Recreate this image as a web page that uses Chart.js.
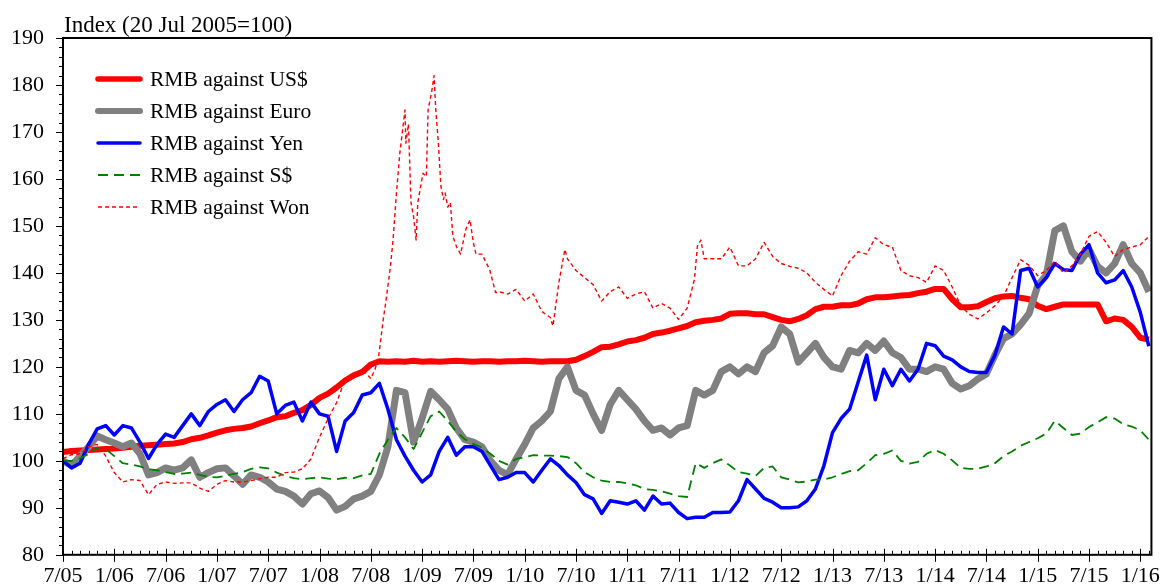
<!DOCTYPE html>
<html>
<head>
<meta charset="utf-8">
<script src="https://cdn.jsdelivr.net/npm/chart.js@4.4.1/dist/chart.umd.min.js"></script>
<style>
    html, body { margin: 0; padding: 0; background: #ffffff; }
    #wrap { width: 1168px; height: 587px; position: relative; }
</style>
</head>
<body>
<div id="wrap"><canvas id="rmbChart"></canvas></div>
<script>
// x values are months counted from July 2005 (0 = 7/05, 126 = 1/16)
const tickLabels = ['7/05', '1/06', '7/06', '1/07', '7/07', '1/08', '7/08', '1/09', '7/09', '1/10', '7/10',
    '1/11', '7/11', '1/12', '7/12', '1/13', '7/13', '1/14', '7/14', '1/15', '7/15', '1/16'];

const months = [
    0, 1, 2, 3, 4, 5, 6, 7, 8, 9, 10, 11, 12, 13, 14, 15, 16, 17, 18, 19,
    20, 21, 22, 23, 24, 25, 26, 27, 28, 29, 30, 31, 32, 33, 34, 35, 36, 37, 38, 39,
    40, 41, 42, 43, 44, 45, 46, 47, 48, 49, 50, 51, 52, 53, 54, 55, 56, 57, 58, 59,
    60, 61, 62, 63, 64, 65, 66, 67, 68, 69, 70, 71, 72, 73, 74, 75, 76, 77, 78, 79,
    80, 81, 82, 83, 84, 85, 86, 87, 88, 89, 90, 91, 92, 93, 94, 95, 96, 97, 98, 99,
    100, 101, 102, 103, 104, 105, 106, 107, 108, 109, 110, 111, 112, 113, 114, 115, 116, 117, 118, 119,
    120, 121, 122, 123, 124, 125, 126, 127
];

const usdIndex = [
    101.9,
    102.1, 102.2, 102.3, 102.4, 102.5, 102.6,
    102.8, 103.0, 103.2, 103.3, 103.4, 103.6,
    103.7, 104.0, 104.6, 104.9, 105.4, 106.0,
    106.5, 106.8, 107.0, 107.3, 108.0, 108.6,
    109.3, 109.5, 110.2, 110.8, 111.9, 113.4,
    114.3, 115.6, 117.1, 118.2, 118.9, 120.5,
    121.2, 121.1, 121.2, 121.1, 121.3, 121.1,
    121.2, 121.1, 121.2, 121.3, 121.2, 121.1,
    121.2, 121.2, 121.1, 121.2, 121.2, 121.3,
    121.2, 121.1, 121.2, 121.2, 121.2, 121.5,
    122.3, 123.2, 124.2, 124.3, 124.8, 125.4,
    125.7, 126.2, 127.0, 127.3, 127.7, 128.2,
    128.7, 129.5, 129.8, 130.0, 130.3, 131.3,
    131.4, 131.4, 131.2, 131.2, 130.6, 130.0,
    129.7, 130.2, 131.0, 132.3, 132.8, 132.8,
    133.1, 133.1, 133.5, 134.4, 134.8, 134.8,
    135.0, 135.2, 135.3, 135.7, 136.0, 136.6,
    136.6, 134.4, 132.7, 132.7, 132.9, 133.8,
    134.6, 135.0, 135.1, 134.7, 134.4, 133.0,
    132.3, 132.8, 133.3, 133.3, 133.3, 133.3,
    133.3, 129.7, 130.3, 130.0, 128.5, 126.2, 125.8
];

const euroIndex = [
    100.0,
    99.0, 101.0, 103.0, 105.3, 104.5, 103.8,
    103.0, 103.8, 101.5, 97.0, 97.5, 98.5,
    98.0, 98.5, 100.2, 96.5, 97.5, 98.3,
    98.5, 96.8, 95.0, 97.0, 96.5, 95.5,
    94.0, 93.5, 92.5, 90.8, 93.0, 93.6,
    92.2, 89.5, 90.3, 91.9, 92.5, 93.5,
    97.0, 103.0, 115.0, 114.5, 104.0, 109.0,
    114.8, 113.0, 111.0, 107.0, 104.5, 104.0,
    103.0, 100.0, 98.0, 97.0, 100.4, 103.5,
    107.0, 108.5, 110.5, 117.5, 120.0, 115.0,
    114.0, 110.0, 106.5, 112.0, 115.0, 113.0,
    111.0, 108.5, 106.5, 107.0, 105.5, 107.0,
    107.5, 115.0, 114.0, 115.0, 119.0, 120.0,
    118.5, 120.0, 119.0, 123.0, 124.5, 128.5,
    127.0, 121.0, 123.0, 125.0, 122.0, 120.0,
    119.5, 123.5, 123.0, 125.0, 123.5, 125.5,
    123.0, 122.0, 119.5, 119.5, 119.0, 120.0,
    119.5, 116.5, 115.3, 116.0, 117.4, 118.5,
    122.5, 126.0, 127.0, 129.0, 131.4, 137.3,
    139.5, 149.0, 150.0, 144.5, 142.5, 145.0,
    141.4, 140.0, 142.0, 146.0, 142.0, 140.0, 136.0
];

const yenIndex = [
    100.0,
    98.5, 99.5, 103.5, 106.8, 107.5, 105.5,
    107.5, 107.0, 104.0, 100.5, 103.5, 105.7,
    105.0, 107.5, 110.0, 107.5, 110.5, 112.0,
    113.0, 110.5, 113.0, 114.5, 118.0, 117.0,
    110.0, 111.8, 112.5, 108.5, 112.5, 110.0,
    109.5, 102.0, 108.5, 110.3, 114.0, 114.5,
    116.5, 111.0, 104.5, 101.0, 98.0, 95.5,
    97.0, 102.0, 105.0, 101.2, 103.0, 103.0,
    102.0, 99.0, 96.0, 96.5, 97.5, 97.5,
    95.5, 98.0, 100.4, 99.0, 97.0, 95.4,
    92.8, 91.9, 88.8, 91.5, 91.2, 90.8,
    91.5, 89.5, 92.5, 90.8, 91.0, 89.0,
    87.7, 88.0, 88.0, 89.0, 89.0, 89.1,
    91.5, 96.0, 94.0, 92.0, 91.2, 90.0,
    90.0, 90.2, 91.5, 94.0, 99.0, 106.0,
    109.0, 111.0, 116.8, 122.5, 113.0, 119.5,
    116.0, 119.5, 117.0, 119.5, 125.0, 124.5,
    122.3, 121.5, 120.0, 119.0, 118.8, 118.8,
    122.5, 128.5, 127.0, 140.5, 141.0, 137.0,
    139.0, 142.0, 140.7, 140.5, 144.0, 146.0,
    140.0, 137.9, 138.5, 140.5, 137.0, 131.6, 124.4
];

const sgdIndex = [
    100.0,
    100.0, 100.5, 101.5, 102.8, 102.5, 101.0,
    99.5, 99.2, 98.8, 98.2, 98.0, 97.6,
    97.2, 97.3, 97.5, 97.0, 96.6, 96.5,
    96.8, 97.2, 97.6, 98.3, 98.6, 98.4,
    97.5, 96.8, 96.3, 96.1, 96.3, 96.5,
    96.2, 96.1, 96.4, 96.3, 96.9, 97.2,
    101.5, 104.5, 107.0, 105.0, 102.5, 106.0,
    109.5, 110.5, 108.5, 106.2, 104.6, 103.6,
    102.8, 101.5, 100.0, 99.2, 100.4, 100.8,
    101.2, 101.1, 101.1, 101.0, 100.8, 99.5,
    97.6, 96.5, 95.8, 95.5, 95.5, 95.2,
    94.8, 94.0, 93.8, 93.5, 93.0, 92.5,
    92.3, 99.5, 98.5, 99.5, 100.3, 99.0,
    97.6, 97.3, 96.8, 98.5, 98.8, 96.5,
    96.0, 95.4, 95.6, 96.0, 96.0, 96.5,
    97.2, 97.8, 98.0, 99.5, 101.2, 101.5,
    102.2, 100.0, 99.4, 99.8, 101.5, 102.3,
    101.5, 100.1, 98.5, 98.3, 98.3, 98.8,
    99.5, 101.0, 102.0, 103.2, 104.0, 104.8,
    105.8, 108.5, 107.0, 105.5, 105.8, 107.2,
    108.2, 109.3, 109.0, 107.8, 107.3, 106.5, 104.5
];

// the won series has extra points around the 2008-09 spike
const wonMonths = [
    0, 1, 2, 3, 4, 5, 6, 7, 8, 9,
    10, 11, 12, 13, 14, 15, 16, 17, 18, 19,
    20, 21, 22, 23, 24, 25, 26, 27, 28, 29,
    30, 31, 32, 33, 34, 35, 36, 36.5, 36.9, 37.45,
    37.8, 38.3, 38.6, 39.0, 39.4, 40.0, 40.1, 40.4, 40.7, 41.0,
    41.3, 41.5, 42.1, 42.5, 42.7, 43.1, 43.4, 43.6, 43.9, 44.2,
    44.5, 44.7, 45.0, 45.3, 45.6, 46.0, 46.5, 47.1, 47.6, 48.0,
    48.3, 49.0, 49.9, 50.6, 51, 52, 53, 54, 55, 56,
    57, 57.3, 58, 58.7, 59, 60, 61, 62, 63, 64,
    65, 66, 67, 68, 69, 70, 71, 72, 73, 73.85,
    74.2, 74.6, 75, 76, 77, 78, 79, 80, 81, 82,
    83, 84, 85, 86, 87, 88, 89, 90, 91, 92,
    93, 94, 95, 96, 97, 98, 99, 100, 101, 102,
    103, 104, 105, 106, 107, 108, 109, 110, 111, 112,
    113, 114, 115, 116, 117, 118, 119, 120, 121, 122,
    123, 124, 125, 126, 127
];

const wonIndex = [
    100.5, 101.3, 101.5, 103.0, 103.5, 101.0, 97.5, 95.5, 96.0, 95.8,
    92.8, 95.0, 95.5, 95.2, 95.3, 95.3, 94.2, 93.5, 95.0, 95.8,
    95.5, 95.5, 95.8, 96.2, 96.5, 96.5, 97.5, 97.6, 98.3, 100.4,
    105.0, 109.0, 112.4, 117.4, 118.5, 119.5, 117.5, 119.5, 122.0, 130.0,
    134.4, 141.4, 147.0, 157.0, 165.6, 174.7, 167.6, 171.7, 155.0, 152.0,
    147.0, 155.0, 161.2, 160.5, 174.7, 178.3, 182.0, 174.7, 167.7, 158.4,
    155.6, 157.0, 154.0, 155.0, 147.8, 145.7, 144.0, 149.2, 151.3, 146.4,
    144.0, 144.0, 140.7, 135.8, 136.0, 135.5, 136.5, 134.0, 135.5, 131.8,
    130.5, 128.7, 138.0, 145.0, 143.0, 140.5, 139.0, 137.5, 134.0, 136.0,
    137.0, 134.6, 135.5, 136.0, 132.5, 133.5, 132.5, 130.1, 132.5, 138.6,
    145.7, 147.0, 143.0, 143.0, 143.0, 145.5, 141.5, 141.5, 143.0, 146.5,
    143.5, 142.0, 141.4, 141.0, 140.0, 138.0, 136.5, 135.1, 139.4, 142.5,
    144.5, 144.0, 147.5, 146.0, 145.5, 140.5, 139.4, 139.0, 138.0, 141.5,
    140.5, 137.0, 133.0, 131.2, 130.2, 131.5, 133.0, 135.0, 139.0, 142.8,
    141.6, 139.4, 140.5, 142.5, 140.0, 141.5, 144.0, 147.8, 148.8, 146.5,
    143.5, 145.0, 145.5, 146.0, 147.8
];

const seriesNames = ['RMB against US$', 'RMB against Euro', 'RMB against Yen', 'RMB against S$', 'RMB against Won'];

const FONT = "'Liberation Serif', 'Times New Roman', serif";

function toPoints(xs, ys) {
    return ys.map((v, i) => ({ x: xs[i], y: v }));
}

// line styles, shared by the plot and the hand drawn legend
const styles = [
    { color: '#ff0000', width: 6, dash: [] },
    { color: '#808080', width: 7, dash: [] },
    { color: '#0000ff', width: 3.5, dash: [] },
    { color: '#008000', width: 1.8, dash: [10, 6] },
    { color: '#ff0000', width: 1.4, dash: [4, 3] }
];

const framePlugin = {
    id: 'framePlugin',
    afterDraw(chart) {
        const ctx = chart.ctx;
        const a = chart.chartArea;
        const xs = chart.scales.x;
        const ys = chart.scales.y;
        ctx.save();

        // tick marks
        ctx.strokeStyle = '#000';
        ctx.lineWidth = 1;
        for (let m = 0; m <= 127; m++) {
            const px = Math.round(xs.getPixelForValue(m)) + 0.5;
            ctx.beginPath();
            if (m % 6 === 0) {
                ctx.moveTo(px, a.bottom - 6);
                ctx.lineTo(px, a.bottom + 7);
            } else {
                ctx.moveTo(px, a.bottom - 4);
                ctx.lineTo(px, a.bottom);
            }
            ctx.stroke();
        }
        for (let v = 80; v <= 190; v += 2) {
            const py = Math.round(ys.getPixelForValue(v)) + 0.5;
            ctx.beginPath();
            ctx.moveTo(a.left - (v % 10 === 0 ? 7 : 4), py);
            ctx.lineTo(a.left, py);
            ctx.stroke();
        }

        // box round the plot
        ctx.lineWidth = 2;
        ctx.strokeRect(a.left, a.top, a.right - a.left, a.bottom - a.top);

        // title
        ctx.fillStyle = '#000';
        ctx.font = '23px ' + FONT;
        ctx.textAlign = 'left';
        ctx.textBaseline = 'alphabetic';
        ctx.fillText('Index (20 Jul 2005=100)', a.left + 1, 32);

        // legend
        const rows = [79, 111, 143, 175, 207];
        ctx.font = '21.5px ' + FONT;
        seriesNames.forEach((name, i) => {
            const st = styles[i];
            ctx.strokeStyle = st.color;
            ctx.lineWidth = st.width === 7 ? 6 : (st.width === 6 ? 5.5 : st.width);
            ctx.setLineDash(st.dash);
            ctx.lineCap = st.dash.length ? 'butt' : 'round';
            ctx.beginPath();
            ctx.moveTo(98, rows[i]);
            ctx.lineTo(140, rows[i]);
            ctx.stroke();
            ctx.setLineDash([]);
            ctx.fillText(name, 150, rows[i] + 7);
        });
        ctx.restore();
    }
};

const datasets = [
    { data: toPoints(months, usdIndex), order: 5 },
    { data: toPoints(months, euroIndex), order: 4 },
    { data: toPoints(months, yenIndex), order: 3 },
    { data: toPoints(months, sgdIndex), order: 2 },
    { data: toPoints(wonMonths, wonIndex), order: 1 }
].map((d, i) => Object.assign(d, {
    label: seriesNames[i],
    borderColor: styles[i].color,
    borderWidth: styles[i].width,
    borderDash: styles[i].dash,
    borderJoinStyle: 'round',
    pointRadius: 0,
    fill: false,
    tension: 0
}));

new Chart(document.getElementById('rmbChart'), {
    type: 'line',
    data: { datasets: datasets },
    options: {
        responsive: true,
        maintainAspectRatio: false,
        animation: false,
        layout: { padding: { top: 38, right: 13, left: 0, bottom: 0 } },
        scales: {
            x: {
                type: 'linear',
                min: 0,
                max: 127.3,
                afterBuildTicks: function (scale) {
                    scale.ticks = tickLabels.map((_, i) => ({ value: i * 6 }));
                },
                afterFit: function (scale) { scale.height = 31; },
                grid: { display: false, drawTicks: false },
                border: { display: false },
                ticks: {
                    autoSkip: false,
                    maxRotation: 0,
                    padding: 8,
                    color: '#000',
                    font: { family: FONT, size: 22 },
                    callback: function (value, index) { return tickLabels[index]; }
                }
            },
            y: {
                min: 80,
                max: 190,
                afterFit: function (scale) { scale.width = 63; },
                grid: { display: false, drawTicks: false },
                border: { display: false },
                ticks: {
                    stepSize: 10,
                    padding: 19,
                    color: '#000',
                    font: { family: FONT, size: 22 }
                }
            }
        },
        plugins: {
            legend: { display: false },
            tooltip: { enabled: false }
        }
    },
    plugins: [framePlugin]
});
</script>
</body>
</html>
